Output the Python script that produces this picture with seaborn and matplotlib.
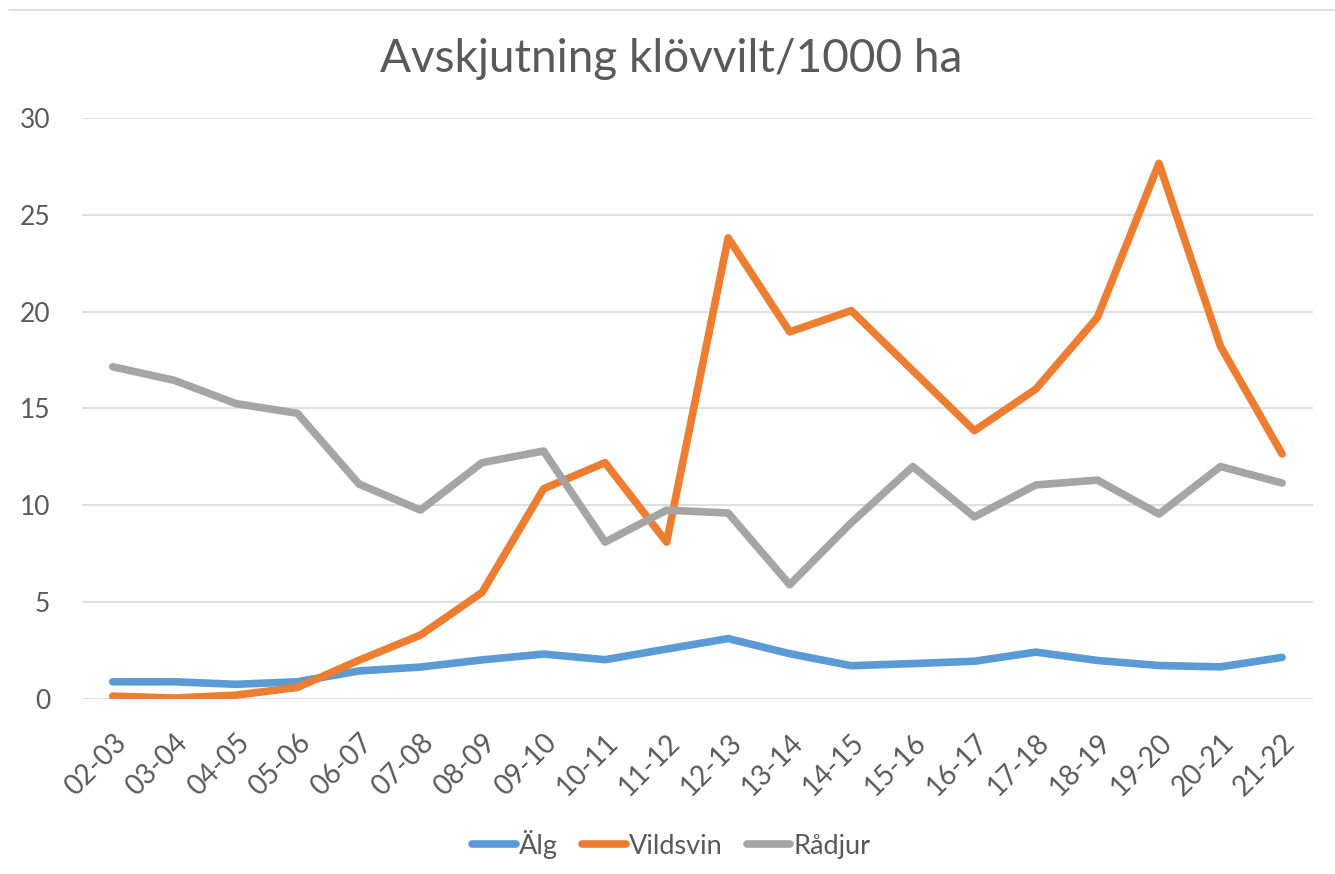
import pandas as pd
import numpy as np
import matplotlib
matplotlib.use('Agg')
import matplotlib.pyplot as plt
import seaborn as sns
from matplotlib.lines import Line2D

# Data
seasons = ['02-03', '03-04', '04-05', '05-06', '06-07', '07-08', '08-09', '09-10', '10-11', '11-12',
           '12-13', '13-14', '14-15', '15-16', '16-17', '17-18', '18-19', '19-20', '20-21', '21-22']
alg = [0.89, 0.89, 0.76, 0.89, 1.45, 1.65, 2.02, 2.32, 2.03, 2.58,
       3.12, 2.34, 1.72, 1.83, 1.95, 2.42, 1.99, 1.73, 1.66, 2.15]
vildsvin = [0.15, 0.05, 0.2, 0.6, 2.0, 3.3, 5.5, 10.85, 12.2, 8.1,
            23.8, 18.95, 20.05, 16.95, 13.85, 16.0, 19.7, 27.65, 18.2, 12.65]
radjur = [17.15, 16.45, 15.25, 14.75, 11.1, 9.75, 12.2, 12.8, 8.1, 9.75,
          9.6, 5.9, 9.1, 12.0, 9.4, 11.05, 11.3, 9.55, 12.0, 11.15]
series = ['Älg', 'Vildsvin', 'Rådjur']
colors = ['#5B9BD5', '#ED7D31', '#A5A5A5']

df = pd.DataFrame({'säsong': seasons, 'Älg': alg, 'Vildsvin': vildsvin, 'Rådjur': radjur})
long = df.melt(id_vars='säsong', var_name='art', value_name='värde')

sns.set_style('white')
plt.rcParams['font.family'] = ['Lato', 'DejaVu Sans']
grey = '#595959'

fig = plt.figure(figsize=(13.35, 8.74), dpi=100)
ax = fig.add_axes([0.0614, 0.2002, 0.922, 0.665])

sns.lineplot(data=long, x='säsong', y='värde', hue='art', hue_order=series,
             palette=colors, linewidth=5.5, sort=False, ax=ax, legend=False)
for ln in ax.lines:
    ln.set_solid_capstyle('round')
    ln.set_solid_joinstyle('round')

ax.set_xlim(-0.5, len(seasons) - 0.5)
ax.set_ylim(0, 30)
ax.set_yticks(range(0, 31, 5))
ax.yaxis.grid(True, color='#D9D9D9', linewidth=1.2)
ax.set_axisbelow(True)
for s in ax.spines.values():
    s.set_visible(False)
ax.set_xlabel('')
ax.set_ylabel('')
ax.tick_params(axis='y', length=0, colors=grey, labelsize=19, pad=23)
ax.set_xticks(range(len(seasons)))
ax.set_xticklabels(seasons, rotation=45, ha='right', rotation_mode='anchor')
ax.tick_params(axis='x', length=0, colors=grey, labelsize=20, pad=22)

fig.text(0.503, 0.933, 'Avskjutning klövvilt/1000 ha', ha='center', va='center',
         fontsize=33, color=grey)

handles = [Line2D([0], [0], color=c, linewidth=5.5, solid_capstyle='round') for c in colors]
fig.legend(handles, series, loc='center', bbox_to_anchor=(0.503, 0.034), ncol=3,
           frameon=False, fontsize=19.5, handlelength=1.6, handletextpad=0.12,
           columnspacing=0.9, labelcolor=grey)

# thin chart border line at top
fig.add_artist(Line2D([0.007, 1.0], [0.988, 0.988], color='#D9D9D9', linewidth=1.2,
                      transform=fig.transFigure))

fig.savefig('out.png', dpi=100, facecolor='white')
plt.close(fig)
